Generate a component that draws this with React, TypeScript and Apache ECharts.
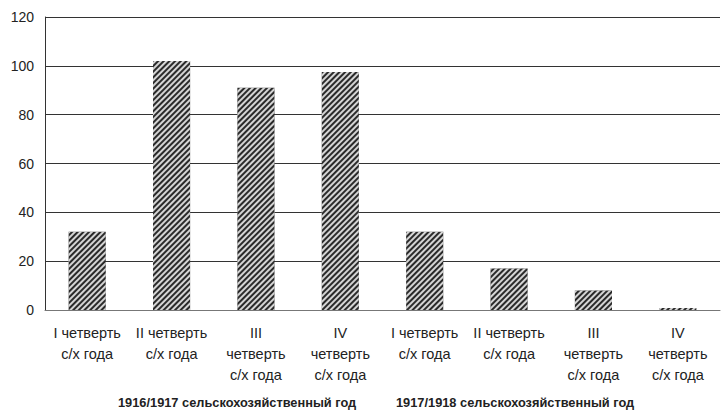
import React, { useEffect, useRef } from "react";
import * as echarts from "echarts";

const categories = [
  "I четверть\nс/х года",
  "II четверть\nс/х года",
  "III\nчетверть\nс/х года",
  "IV\nчетверть\nс/х года",
  "I четверть\nс/х года",
  "II четверть\nс/х года",
  "III\nчетверть\nс/х года",
  "IV\nчетверть\nс/х года",
];
const values = [32, 102, 91, 97.5, 32, 17, 8, 0.8];
const groupLabels = [
  "1916/1917 сельскохозяйственный год",
  "1917/1918 сельскохозяйственный год",
];

const FONT = "'Liberation Sans', Arial, sans-serif";

export default function App() {
  const ref = useRef<HTMLDivElement>(null);
  useEffect(() => {
    const chart = echarts.init(ref.current!, null, { renderer: "svg" });
    chart.setOption({
      animation: false,
      grid: { left: 45, right: 2, top: 17, bottom: 101 },
      xAxis: {
        type: "category",
        data: categories,
        axisLine: { show: true, lineStyle: { color: "#777", width: 1 } },
        axisTick: { show: false },
        axisLabel: {
          interval: 0,
          color: "#222",
          fontFamily: FONT,
          fontSize: 14.5,
          lineHeight: 21,
          margin: 12,
          align: "center",
        },
      },
      yAxis: {
        type: "value",
        min: 0,
        max: 120,
        interval: 20,
        axisLine: { show: true, lineStyle: { color: "#333", width: 1 } },
        axisTick: { show: false },
        splitLine: { show: true, lineStyle: { color: "#333", width: 1 } },
        axisLabel: {
          color: "#222",
          fontFamily: FONT,
          fontSize: 14,
          margin: 11,
        },
      },
      series: [
        {
          type: "bar",
          data: values,
          barWidth: "44%",
          itemStyle: {
            color: "#2a2a2a",
            decal: {
              symbol: "rect",
              symbolSize: 1,
              color: "rgba(255,255,255,0.8)",
              dashArrayX: [1, 0],
              dashArrayY: [1.3, 1.3],
              rotation: -Math.PI / 4,
            },
          },
        },
      ],
      aria: { enabled: false, decal: { show: true } },
      graphic: [
        {
          type: "text",
          left: 118,
          top: 396,
          style: {
            text: groupLabels[0],
            font: `bold 12.8px ${FONT}`,
            fill: "#222",
          },
        },
        {
          type: "text",
          left: 396,
          top: 396,
          style: {
            text: groupLabels[1],
            font: `bold 12.8px ${FONT}`,
            fill: "#222",
          },
        },
      ],
    });
    return () => chart.dispose();
  }, []);
  return <div ref={ref} style={{ width: 722, height: 411, position: "absolute", left: 0, top: 0 }} />;
}
